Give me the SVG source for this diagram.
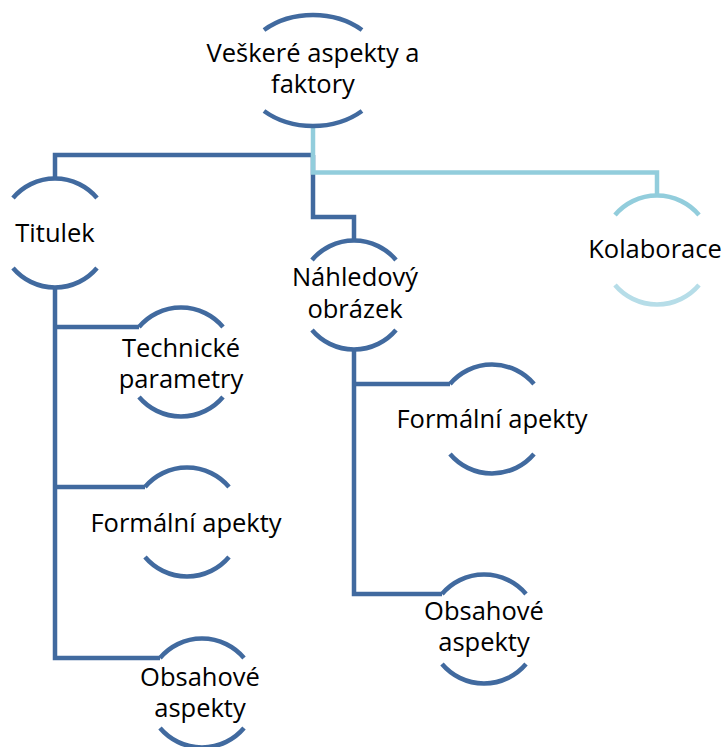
<svg xmlns="http://www.w3.org/2000/svg" width="724" height="747" viewBox="0 0 724 747">
<style>
.arc{fill:none;stroke:#416A9F;stroke-width:4.5}
.arcl{fill:none;stroke:#92CDDC;stroke-width:4.5}
.arcl2{fill:none;stroke:#B6DDE8;stroke-width:4.5}
.con{fill:none;stroke:#416A9F;stroke-width:4.5}
.conl{fill:none;stroke:#92CDDC;stroke-width:4.5}
text{font-family:"Open Sans","Noto Sans",sans-serif;font-size:25.5px;fill:#000;text-anchor:middle}
</style>
<rect width="724" height="747" fill="#fff"/>
<g id="connectors">
<path class="con" d="M313,155 H55 V179"/>
<path class="con" d="M313,155 V217 H354 V241"/>
<path class="conl" d="M313,127 V172.5 H657 V196"/>
<path class="con" d="M55,287 V658 H160"/>
<path class="con" d="M55,327 H139"/>
<path class="con" d="M55,487 H145"/>
<path class="con" d="M354,349 V594 H442"/>
<path class="con" d="M354,384 H450"/>
</g>
<g id="node-root">
<path class="arc" d="M264,30 A72,56 0 0 1 362,30"/>
<path class="arc" d="M264,111 A72,56 0 0 0 362,111"/>
<text x="313" y="62">Veškeré aspekty a</text>
<text x="313" y="93">faktory</text>
</g>
<g id="node-titulek">
<path class="arc" d="M13,198 A55,55 0 0 1 97,198"/>
<path class="arc" d="M13,268 A55,55 0 0 0 97,268"/>
<text x="55" y="242">Titulek</text>
</g>
<g id="node-nahledovy">
<path class="arc" d="M312,260 A55,55 0 0 1 396,260"/>
<path class="arc" d="M312,330 A55,55 0 0 0 396,330"/>
<text x="355" y="286">Náhledový</text>
<text x="355" y="318">obrázek</text>
</g>
<g id="node-kolaborace">
<path class="arcl" d="M615,215 A55,55 0 0 1 699,215"/>
<path class="arcl2" d="M615,285 A55,55 0 0 0 699,285"/>
<text x="655" y="258">Kolaborace</text>
</g>
<g id="node-technicke">
<path class="arc" d="M139,327 A55,55 0 0 1 223,327"/>
<path class="arc" d="M139,397 A55,55 0 0 0 223,397"/>
<text x="181" y="357">Technické</text>
<text x="181" y="388">parametry</text>
</g>
<g id="node-formalni-1">
<path class="arc" d="M145,487 A55,55 0 0 1 229,487"/>
<path class="arc" d="M145,557 A55,55 0 0 0 229,557"/>
<text x="186" y="532">Formální apekty</text>
</g>
<g id="node-obsahove-1">
<path class="arc" d="M160,658 A55,55 0 0 1 244,658"/>
<path class="arc" d="M160,728 A55,55 0 0 0 244,728"/>
<text x="200" y="686">Obsahové</text>
<text x="200" y="717">aspekty</text>
</g>
<g id="node-formalni-2">
<path class="arc" d="M450,384 A55,55 0 0 1 534,384"/>
<path class="arc" d="M450,454 A55,55 0 0 0 534,454"/>
<text x="492" y="428">Formální apekty</text>
</g>
<g id="node-obsahove-2">
<path class="arc" d="M442,594 A55,55 0 0 1 526,594"/>
<path class="arc" d="M442,664 A55,55 0 0 0 526,664"/>
<text x="484" y="620">Obsahové</text>
<text x="484" y="651">aspekty</text>
</g>
</svg>
